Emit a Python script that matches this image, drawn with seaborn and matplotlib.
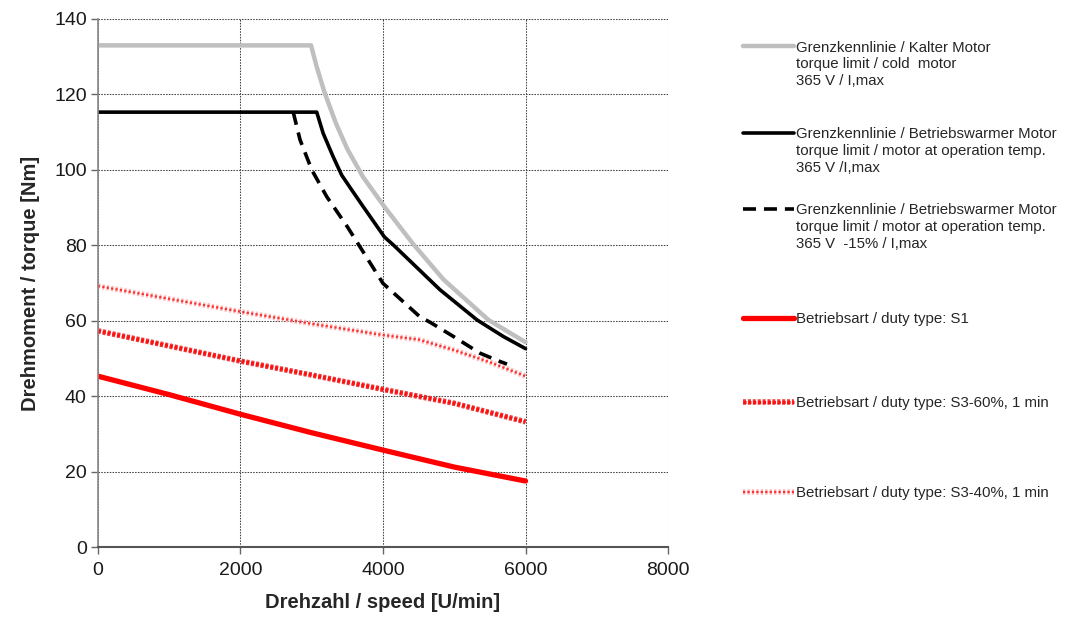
import matplotlib
matplotlib.use("Agg")
import matplotlib.pyplot as plt
import matplotlib.patheffects as pe
from matplotlib.lines import Line2D
import seaborn as sns

# torque limit, cold motor
speed_cold = [0, 2990, 3070, 3180, 3340, 3500, 3720, 4020, 4420, 4850, 5480, 6000]
torque_cold = [133, 133, 127.3, 120.5, 112.3, 105.5, 98.1, 90.2, 80.4, 70.9, 60.2, 54.3]

# torque limit, motor at operating temperature
speed_warm = [0, 3070, 3160, 3300, 3420, 3560, 3720, 4020, 4150, 4800, 5320, 5690, 6000]
torque_warm = [115.3, 115.3, 109.7, 103.5, 98.6, 94.7, 90.3, 82.2, 80.0, 68.2, 60.2, 55.8, 52.6]

# torque limit, warm motor, 365 V -15%
speed_warm15 = [2740, 2835, 3000, 3210, 3500, 4000, 4520, 4660, 4990, 5360, 5640, 5740]
torque_warm15 = [115.3, 108.0, 100.0, 92.9, 84.9, 69.9, 61.0, 59.6, 55.8, 51.4, 49.2, 48.5]

# duty types
speed_duty = [0, 1000, 2000, 3000, 4000, 5000, 6000]
torque_s1 = [45.3, 40.4, 35.2, 30.3, 25.7, 21.2, 17.5]
torque_s3_60 = [57.3, 53.3, 49.3, 45.6, 41.8, 38.1, 33.2]
speed_s3_40 = [0, 1000, 2000, 3000, 4000, 4500, 5000, 5500, 6000]
torque_s3_40 = [69.2, 65.8, 62.4, 59.2, 56.2, 55.0, 52.2, 49.0, 45.3]

labels = [
    ["Grenzkennlinie / Kalter Motor", "torque limit / cold  motor", "365 V / I,max"],
    ["Grenzkennlinie / Betriebswarmer Motor", "torque limit / motor at operation temp.", "365 V /I,max"],
    ["Grenzkennlinie / Betriebswarmer Motor", "torque limit / motor at operation temp.", "365 V  -15% / I,max"],
    ["Betriebsart / duty type: S1"],
    ["Betriebsart / duty type: S3-60%, 1 min"],
    ["Betriebsart / duty type: S3-40%, 1 min"],
]

sns.set_style("white")
plt.rcParams["font.family"] = ["Liberation Sans", "DejaVu Sans"]

fig = plt.figure(figsize=(10.73, 6.2), dpi=100)
ax = fig.add_axes([0.0913, 0.1177, 0.5313, 0.8517])

ax.grid(True, linestyle=(0, (1.5, 1.2)), color="#444444", linewidth=0.75)
ax.set_axisbelow(True)

l_cold = sns.lineplot(x=speed_cold, y=torque_cold, ax=ax, color="#bfbfbf", lw=3.2, sort=False).lines[-1]
l_s1 = sns.lineplot(x=speed_duty, y=torque_s1, ax=ax, color="#ff0000", lw=3.8).lines[-1]
l_s60 = sns.lineplot(x=speed_duty, y=torque_s3_60, ax=ax, color="#ff1010", lw=2.2,
                     linestyle=(0, (1, 0.6)),
                     path_effects=[pe.Stroke(linewidth=4, foreground="#f03c3c"), pe.Normal()]).lines[-1]
l_s40 = sns.lineplot(x=speed_s3_40, y=torque_s3_40, ax=ax, color="#ff3030", lw=1.6,
                     linestyle=(0, (1, 1)),
                     path_effects=[pe.Stroke(linewidth=4, foreground="#ffb8b8"), pe.Normal()]).lines[-1]
l_warm15 = sns.lineplot(x=speed_warm15, y=torque_warm15, ax=ax, color="black", lw=2.6,
                        linestyle=(0, (3.6, 2.2)), sort=False).lines[-1]
l_warm = sns.lineplot(x=speed_warm, y=torque_warm, ax=ax, color="black", lw=2.6, sort=False).lines[-1]

ax.set_xlim(0, 8000)
ax.set_ylim(0, 140)
ax.set_xticks(range(0, 8001, 2000))
ax.set_yticks(range(0, 141, 20))
ax.tick_params(axis="both", labelsize=14, labelcolor="#1a1a1a", length=5, width=1,
               color="#666666", direction="out", left=True, bottom=True)
ax.tick_params(axis="y", pad=3)
ax.tick_params(axis="x", pad=6)
for side in ["top", "right"]:
    ax.spines[side].set_visible(False)
ax.spines["left"].set_color("#888888")
ax.spines["left"].set_linewidth(1.2)
ax.spines["bottom"].set_color("#555555")
ax.spines["bottom"].set_linewidth(1.5)

ax.set_xlabel("Drehzahl / speed [U/min]", fontsize=14.5, fontweight="bold", labelpad=10)
ax.set_ylabel("Drehmoment / torque [Nm]", fontsize=14.5, fontweight="bold", labelpad=10)

handles = [l_cold, l_warm, l_warm15, l_s1, l_s60, l_s40]
y_centers = [46, 133, 209, 318, 402, 492]
blank = Line2D([], [], color="none")
for h, lab, yc in zip(handles, labels, y_centers):
    fig.legend(handles=[h] + [blank] * (len(lab) - 1), labels=lab,
               loc="upper left", bbox_to_anchor=(743 / 1073, 1 - (yc - 5.5) / 620),
               frameon=False, fontsize=10.8, handlelength=3.4, handletextpad=0.1,
               labelspacing=0.17, borderpad=0, borderaxespad=0)

fig.savefig("out.png", dpi=100)
